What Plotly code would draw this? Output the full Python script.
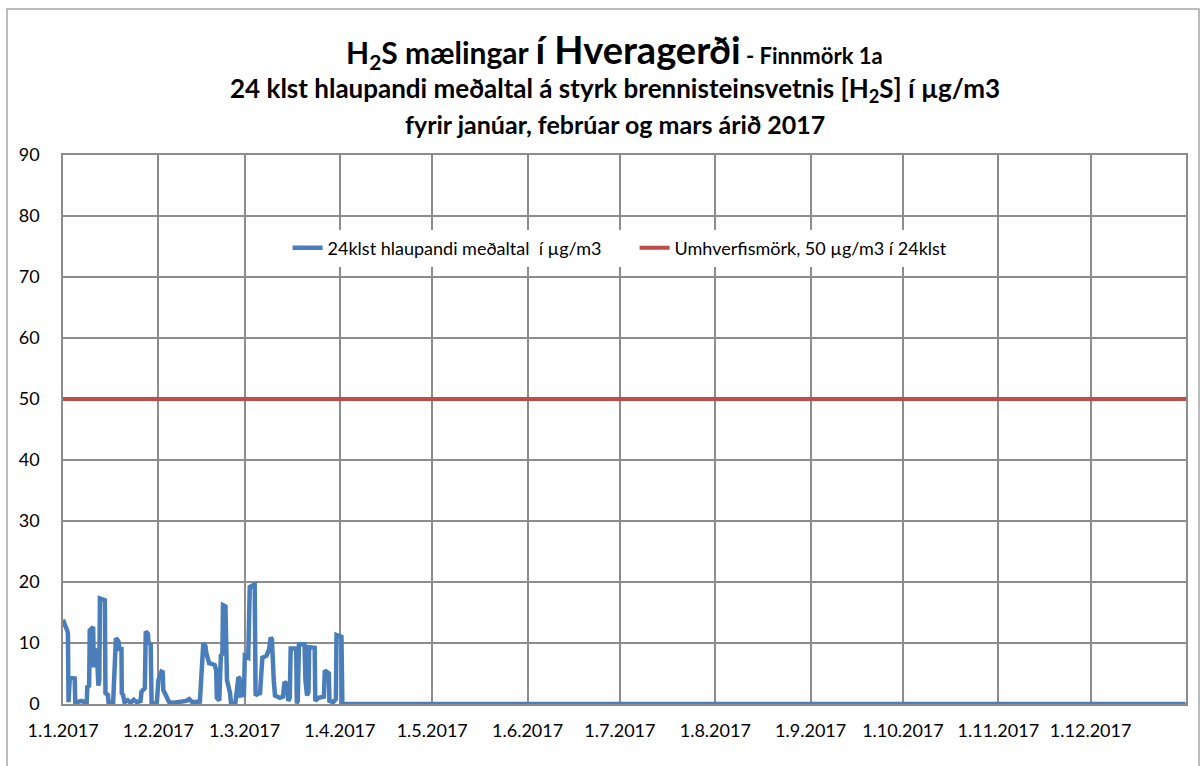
import pandas as pd
import plotly.graph_objects as go

# ---- data (day offset from 1.1.2017, 24h running mean in µg/m3) ----
day_offsets = [0, 0.8, 1.4, 1.6, 1.8, 2.2, 3.8, 4.0, 5, 6, 7, 7.7, 7.9, 8.5, 8.7, 9.8, 10.0, 10.3, 11.0, 11.5,
               11.8, 12.0, 13.6, 13.8, 14.6, 14.8, 16.3, 16.5, 17.2, 18.0, 18.3, 19.0, 19.1, 19.5, 20.0, 21,
               22, 23, 24, 25.2, 25.5, 26.6, 26.9, 27.6, 27.8, 28.5, 28.8, 30.5, 31.0, 32.0, 32.4, 32.6, 33.6,
               34.5, 36, 38, 40, 41, 42, 44.5, 44.9, 45.6, 46.3, 46.6, 47.5, 49.3, 49.8, 50.0, 50.8, 51.3,
               51.8, 52.0, 52.8, 53.0, 53.3, 54.3, 54.6, 56.0, 56.4, 57.0, 57.4, 57.7, 58.8, 59.1, 60.2, 60.7,
               62.3, 62.6, 63.6, 64.0, 64.8, 66.1, 67.0, 67.5, 67.9, 68.1, 68.5, 68.9, 70.5, 71.5, 72.0, 72.8,
               73.2, 73.7, 74.0, 75.8, 76.0, 76.3, 76.7, 78.5, 78.8, 79.3, 79.8, 80.0, 81.8, 82.0, 83, 84.8,
               85.1, 86.0, 86.4, 86.6, 87.8, 88.7, 88.9, 90.5, 90.8, 364.9]
h2s_values = [13.8, 13.0, 12.0, 11.5, 0.3, 4.3, 4.2, 0.2, 0.3, 0.5, 0.3, 0.3, 2.8, 3.0, 12.1, 12.6, 6.0, 9.0, 8.5, 3.0,
              4.0, 17.3, 17.0, 1.8, 1.5, 0.2, 0.3, 2.3, 10.8, 10.3, 9.0, 9.0, 1.8, 1.5, 0.3, 0.6,
              0.2, 0.7, 0.3, 0.5, 2.0, 2.6, 11.9, 11.5, 10.0, 9.8, 0.1, 0.2, 3.9, 5.3, 5.2, 2.3, 1.0,
              0.3, 0.2, 0.3, 0.5, 0.8, 0.3, 0.4, 3.6, 10.0, 9.5, 8.3, 6.7, 6.4, 5.5, 1.0, 0.6, 7.9,
              8.2, 16.2, 16.0, 8.3, 3.9, 1.8, 0.1, 0.1, 1.8, 4.4, 4.2, 1.4, 1.5, 7.9, 7.6, 19.2,
              19.6, 1.4, 1.8, 1.5, 7.6, 7.9, 9.0, 10.9, 10.6, 5.5, 3.9, 1.4, 1.0, 1.2, 3.6, 3.3,
              0.5, 1.0, 9.1, 9.1, 0.1, 0.5, 9.8, 9.8, 4.0, 1.4, 2.0, 9.3, 9.2, 0.5, 1.0, 1.2,
              5.5, 5.0, 5.0, 0.5, 0.3, 0.8, 11.3, 11.0, 0.0, 0.0]
limit_value = 50
tick_dates = ["2017-01-01", "2017-02-01", "2017-03-01", "2017-04-01", "2017-05-01", "2017-06-01",
              "2017-07-01", "2017-08-01", "2017-09-01", "2017-10-01", "2017-11-01", "2017-12-01"]
tick_labels = ["1.1.2017", "1.2.2017", "1.3.2017", "1.4.2017", "1.5.2017", "1.6.2017",
               "1.7.2017", "1.8.2017", "1.9.2017", "1.10.2017", "1.11.2017", "1.12.2017"]
y_ticks = [0, 10, 20, 30, 40, 50, 60, 70, 80, 90]

start = pd.Timestamp("2017-01-01")
x_dates = [start + pd.Timedelta(days=d) for d in day_offsets]
x_end = pd.Timestamp("2018-01-01")

FONT = "Lato"
fig = go.Figure()
fig.add_trace(go.Scatter(x=x_dates, y=h2s_values, mode="lines",
                         line=dict(color="#4A7EBB", width=4.5),
                         name="24klst hlaupandi meðaltal  í µg/m3"))
fig.add_trace(go.Scatter(x=[start, x_end], y=[limit_value, limit_value], mode="lines",
                         line=dict(color="#BE4B48", width=4),
                         name="Umhverfismörk, 50 µg/m3 í 24klst"))

fig.update_layout(
    width=1200, height=766,
    margin=dict(l=63, r=14, t=155, b=62),
    paper_bgcolor="white", plot_bgcolor="white",
    font=dict(family=FONT, size=18, color="#000000"),
    showlegend=True,
    legend=dict(orientation="h", x=0.2, xanchor="left", y=0.8306, yanchor="middle",
                bgcolor="white", font=dict(size=18, family=FONT), itemwidth=30,
                entrywidth=302, tracegroupgap=0),
    xaxis=dict(range=[start, x_end], tickvals=tick_dates, ticktext=tick_labels,
               showgrid=True, gridcolor="#8C8C8C", gridwidth=1.5,
               showline=True, linecolor="#8C8C8C", linewidth=1.5, mirror=True,
               ticks="", tickfont=dict(size=18), ticklabelstandoff=10, zeroline=False),
    yaxis=dict(range=[0, 90], tickvals=y_ticks, showgrid=True, gridcolor="#8C8C8C", gridwidth=1.5,
               showline=True, linecolor="#8C8C8C", linewidth=1.5, mirror=True,
               ticks="", tickfont=dict(size=18), ticklabelstandoff=18, zeroline=False),
)

title_x = 0.4915
fig.add_annotation(xref="paper", yref="paper", x=title_x, y=(704 - 50) / 549, yanchor="middle",
                   showarrow=False,
                   text="<b>H<sub>2</sub>S mælingar <span style='font-size:38px'>í Hveragerði</span>"
                        "<span style='font-size:22px'> - Finnmörk 1a</span></b>",
                   font=dict(size=30, family=FONT))
fig.add_annotation(xref="paper", yref="paper", x=title_x, y=(704 - 89) / 549, yanchor="middle",
                   showarrow=False,
                   text="<b>24 klst hlaupandi meðaltal á styrk brennisteinsvetnis [H<sub>2</sub>S] í µg/m3</b>",
                   font=dict(size=26, family=FONT))
fig.add_annotation(xref="paper", yref="paper", x=title_x, y=(704 - 124) / 549, yanchor="middle",
                   showarrow=False,
                   text="<b>fyrir janúar, febrúar og mars árið 2017</b>",
                   font=dict(size=25, family=FONT))

# outer chart border
fig.add_shape(type="rect", xref="paper", yref="paper",
              x0=(7 - 63) / 1123, x1=(1199 - 63) / 1123, y0=-0.2, y1=(704 - 9) / 549,
              line=dict(color="#A6A6A6", width=1.5), fillcolor="rgba(0,0,0,0)", layer="below")

fig.write_html("out.html", config={"displayModeBar": False},
               post_script="document.body.style.margin='0';")
